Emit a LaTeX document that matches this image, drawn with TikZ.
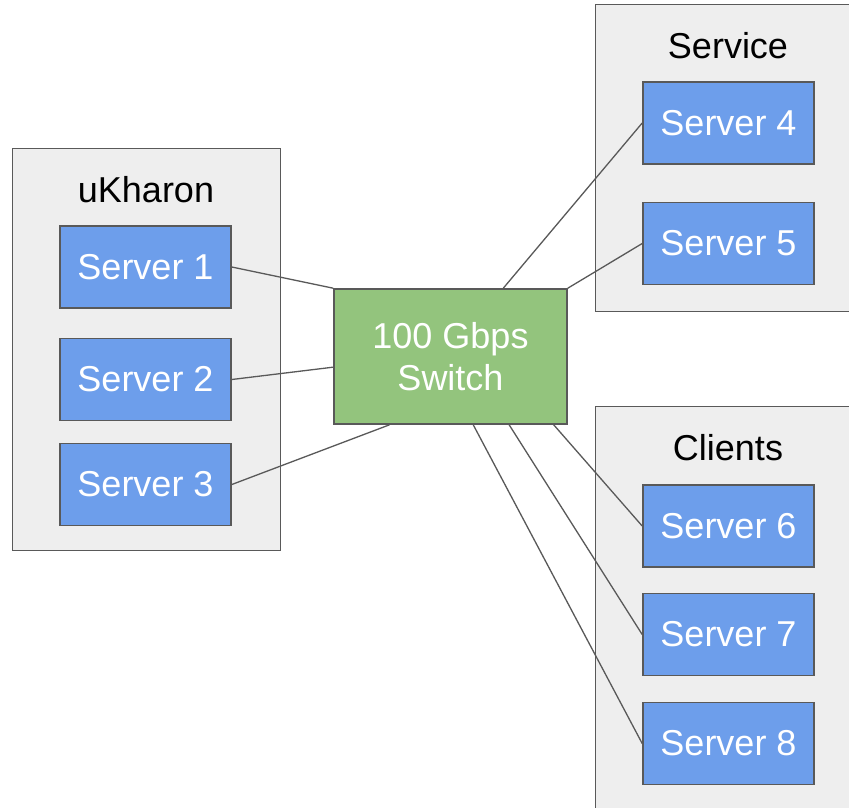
\documentclass[tikz,border=0pt]{standalone}
\usepackage{fontspec}
\setmainfont{Liberation Sans}
\usetikzlibrary{calc}
\definecolor{groupfill}{HTML}{EEEEEE}
\definecolor{edgegray}{HTML}{595959}
\definecolor{serverblue}{HTML}{6D9EEB}
\definecolor{switchgreen}{HTML}{93C47D}
\tikzset{
  x=1pt, y=-1pt,
  bigtext/.style={font=\fontsize{36}{42}\selectfont},
  groupbox/.style={draw=edgegray, fill=groupfill, line width=1.4pt, anchor=north west, inner sep=0pt},
  grouptitle/.style={bigtext, text=black, inner sep=0pt},
  serverbox/.style={draw=edgegray, fill=serverblue, line width=1.6pt, text=white, bigtext,
    minimum width=171pt, minimum height=82pt, inner sep=0pt},
  switchbox/.style={draw=edgegray, fill=switchgreen, line width=1.6pt, text=white, bigtext,
    minimum width=233pt, minimum height=135pt, inner sep=0pt, align=center},
  link/.style={draw=edgegray, line width=1.3pt}
}
\begin{document}
\begin{tikzpicture}
\useasboundingbox (0,0) rectangle (849,807);
\clip (0,0) rectangle (849,807);
\fill[white] (0,0) rectangle (849,807);

% groups
\node[groupbox, minimum width=268pt, minimum height=402pt] (gleft) at (12,148) {};
\node[groupbox, minimum width=290pt, minimum height=307pt] (gservice) at (595,4) {};
\node[groupbox, minimum width=290pt, minimum height=430pt] (gclients) at (595,406) {};

\node[grouptitle] (tleft) at (146,190) {uKharon};
\node[grouptitle] (tservice) at (728,46) {Service};
\node[grouptitle] (tclients) at (728,448) {Clients};

% servers
\node[serverbox] (s1) at (145.5,267) {Server 1};
\node[serverbox] (s2) at (145.5,379.5) {Server 2};
\node[serverbox] (s3) at (145.5,484.5) {Server 3};
\node[serverbox] (s4) at (728.5,123) {Server 4};
\node[serverbox] (s5) at (728.5,243.5) {Server 5};
\node[serverbox] (s6) at (728.5,526) {Server 6};
\node[serverbox] (s7) at (728.5,634.5) {Server 7};
\node[serverbox] (s8) at (728.5,743.5) {Server 8};

% switch
\node[switchbox] (sw) at (450.5,356.5) {100 Gbps\\Switch};

% links
\draw[link] (s1.east) -- (sw.north west);
\draw[link] (s2.east) -- ($(sw.north west)!0.578!(sw.south west)$);
\draw[link] (s3.east) -- ($(sw.south west)!0.24!(sw.south east)$);
\draw[link] (s4.west) -- ($(sw.north west)!0.725!(sw.north east)$);
\draw[link] (s5.west) -- (sw.north east);
\draw[link] (s6.west) -- ($(sw.south west)!0.94!(sw.south east)$);
\draw[link] (s7.west) -- ($(sw.south west)!0.75!(sw.south east)$);
\draw[link] (s8.west) -- ($(sw.south west)!0.597!(sw.south east)$);
\end{tikzpicture}
\end{document}
